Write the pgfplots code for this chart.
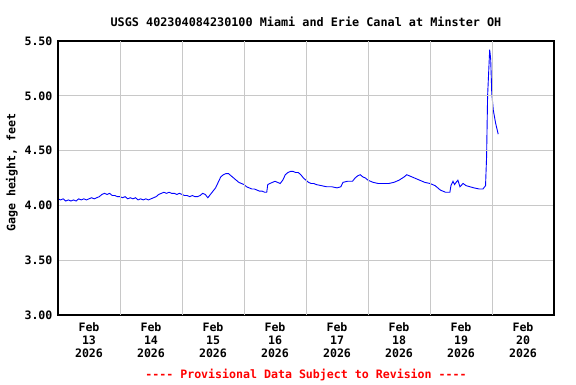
\documentclass[border=0pt]{standalone}
\usepackage{pgfplots}
\pgfplotsset{compat=1.18}
\usepackage{fontspec}
\setmainfont{DejaVu Sans Mono}
\definecolor{gridgray}{RGB}{200,200,200}
\begin{document}
\begin{tikzpicture}
\path[use as bounding box] (0pt,0pt) rectangle (576pt,384pt);
\begin{axis}[
  at={(58pt,69pt)}, anchor=south west,
  scale only axis, width=496pt, height=274pt,
  xmin=0, xmax=192, ymin=3, ymax=5.5,
  axis line style={black, line width=1.1pt},
  xtick={12,36,60,84,108,132,156,180},
  xticklabels={{Feb\\13\\2026},{Feb\\14\\2026},{Feb\\15\\2026},{Feb\\16\\2026},{Feb\\17\\2026},{Feb\\18\\2026},{Feb\\19\\2026},{Feb\\20\\2026}},
  xticklabel style={align=center, font=\fontsize{11.6}{13}\selectfont\bfseries},
  extra x ticks={24,48,72,96,120,144,168},
  extra x tick labels={},
  extra x tick style={grid=major, major grid style={gridgray, line width=0.8pt}},
  ytick={3,3.5,4,4.5,5,5.5},
  yticklabels={3.00,3.50,4.00,4.50,5.00,5.50},
  yticklabel style={font=\fontsize{11.6}{13}\selectfont\bfseries},
  /pgf/number format/assume math mode=true,
  ymajorgrids, major grid style={gridgray, line width=0.8pt},
  major tick length=0pt,
  tick align=inside,
  xticklabel shift=4pt,
  yticklabel shift=2pt,
  ylabel={Gage height, feet},
  ylabel style={font=\fontsize{11.6}{13}\selectfont\bfseries, at={(ticklabel cs:0.52)}},
  title={USGS 402304084230100 Miami and Erie Canal at Minster OH},
  title style={font=\fontsize{11.8}{13}\selectfont\bfseries, yshift=5pt},
  axis on top,
]
\addplot[blue, line width=0.9pt] table {
0 4.06
1 4.05
2 4.06
3 4.04
4 4.05
5 4.04
6 4.05
7 4.04
8 4.06
9 4.05
10 4.06
11 4.05
12 4.06
13 4.07
14 4.06
15 4.07
16 4.08
17 4.10
18 4.11
19 4.10
20 4.11
21 4.09
22 4.09
23 4.08
24 4.08
25 4.07
26 4.08
27 4.06
28 4.07
29 4.06
30 4.07
31 4.05
32 4.06
33 4.05
34 4.06
35 4.05
36 4.06
37 4.07
38 4.08
39 4.10
40 4.11
41 4.12
42 4.11
43 4.12
44 4.11
45 4.11
46 4.10
47 4.11
48 4.10
49 4.09
50 4.09
51 4.08
52 4.09
53 4.08
54 4.08
55 4.09
56 4.11
57 4.10
58 4.07
59 4.10
60 4.13
61 4.16
62 4.21
63 4.26
64 4.28
65 4.29
66 4.29
67 4.27
68 4.25
69 4.23
70 4.21
71 4.20
72 4.19
73 4.17
74 4.16
75 4.15
76 4.15
77 4.14
78 4.13
79 4.13
80 4.12
80.8 4.12
81.2 4.19
82 4.20
83 4.21
84 4.22
85 4.21
86 4.20
87 4.23
88 4.28
89 4.30
90 4.31
91 4.31
92 4.30
93 4.30
94 4.28
95 4.25
96 4.23
97 4.21
98 4.20
99 4.20
100 4.19
102 4.18
104 4.17
106 4.17
108 4.16
109.5 4.17
110.3 4.21
112 4.22
114 4.22
115 4.25
116 4.27
117 4.28
118 4.26
119 4.25
120 4.23
121 4.22
122 4.21
124 4.20
126 4.20
128 4.20
130 4.21
132 4.23
134 4.26
135 4.28
136 4.27
137 4.26
138 4.25
140 4.23
142 4.21
144 4.20
146 4.18
147 4.16
148 4.14
150 4.12
151.7 4.12
152.1 4.18
152.9 4.22
153.5 4.19
154.1 4.21
154.8 4.23
155.6 4.17
156.8 4.20
158 4.18
159.5 4.17
161 4.16
163 4.15
164.5 4.15
165.5 4.18
165.9 4.44
166.3 5.00
166.7 5.21
167.1 5.42
167.3 5.38
167.5 5.33
167.9 5.03
168.5 4.87
169.4 4.75
170.4 4.65
};
\end{axis}
\node[text=red, font=\fontsize{11.6}{13}\selectfont\bfseries] at (306pt,9pt) {-{}-{}-{}- Provisional Data Subject to Revision -{}-{}-{}-};
\end{tikzpicture}
\end{document}
